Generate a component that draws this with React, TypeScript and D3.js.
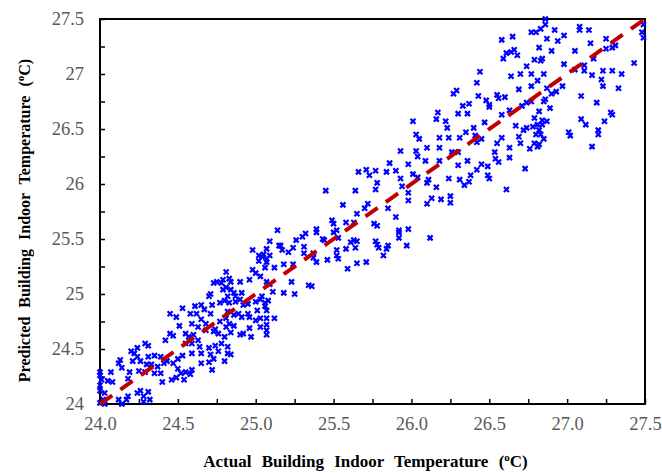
import React, { useEffect, useRef } from 'react';
import * as d3 from 'd3';

// [actual, predicted] in ºC
const lowBand: [number, number][] = [
	[24.29, 24.55], [24.31, 24.53], [24.24, 24.51], [24.22, 24.46], [24.20, 24.48], [24.24, 24.43], [24.21, 24.39],
	[24.13, 24.40], [24.12, 24.37], [24.14, 24.33], [24.07, 24.29], [24.05, 24.21], [24.00, 24.29], [24.00, 24.26],
	[24.01, 24.22], [24.00, 24.17], [24.00, 24.12], [24.03, 24.10], [24.02, 24.04], [24.00, 24.01], [24.03, 24.00],
	[24.14, 24.00], [24.12, 24.04], [24.17, 24.04], [24.18, 24.07], [24.26, 24.12], [24.28, 24.07], [24.31, 24.11],
	[24.32, 24.04], [24.28, 24.02], [24.24, 24.10], [24.40, 24.20], [24.46, 24.22], [24.49, 24.24], [24.54, 24.22],
	[24.52, 24.28], [24.55, 24.29], [24.58, 24.27], [24.59, 24.31], [24.50, 24.32], [24.47, 24.37], [24.50, 24.41],
	[24.53, 24.44], [24.43, 24.39], [24.41, 24.37], [24.37, 24.34], [24.35, 24.28], [24.39, 24.28], [24.33, 24.36],
	[24.30, 24.36], [24.26, 24.39], [24.31, 24.43], [24.35, 24.44], [24.39, 24.43], [24.29, 24.29], [24.25, 24.30],
	[24.19, 24.29], [24.18, 24.23], [24.08, 24.20], [24.55, 24.55], [24.59, 24.55], [24.63, 24.58], [24.64, 24.52],
	[24.65, 24.46], [24.59, 24.46], [24.70, 24.51], [24.74, 24.53], [24.78, 24.55], [24.82, 24.52], [24.82, 24.46],
	[24.84, 24.45], [24.80, 24.39], [24.71, 24.45], [24.65, 24.37], [24.70, 24.38], [24.73, 24.41], [24.76, 24.48],
	[24.72, 24.31], [24.42, 24.58],
];

const clusterBand: [number, number][] = [
	[25.09, 25.48], [25.15, 25.44], [24.98, 25.40], [25.07, 25.41], [25.02, 25.35], [25.04, 25.34], [25.05, 25.36],
	[25.07, 25.32], [25.09, 25.35], [25.02, 25.30], [25.07, 25.29], [25.12, 25.24], [25.06, 25.24], [24.98, 25.22],
	[25.00, 25.19], [24.81, 25.20], [24.79, 25.13], [24.75, 25.11], [24.73, 25.10], [24.78, 25.10], [24.83, 25.14],
	[24.84, 25.11], [24.90, 25.11], [24.96, 25.13], [25.03, 25.16], [25.07, 25.11], [25.09, 25.09], [25.23, 25.11],
	[25.34, 25.08], [25.18, 25.01], [25.25, 25.00], [25.11, 25.02], [24.81, 25.06], [24.79, 25.04], [24.84, 25.04],
	[24.86, 25.01], [24.82, 24.98], [24.87, 24.98], [24.91, 25.01], [24.71, 25.00], [24.70, 24.98], [24.77, 24.92],
	[24.80, 24.94], [24.83, 24.92], [24.87, 24.93], [24.90, 24.95], [24.92, 24.90], [24.95, 24.91], [25.00, 24.93],
	[25.03, 24.95], [25.04, 24.98], [25.06, 24.92], [25.08, 24.94], [25.06, 24.89], [25.07, 24.85], [25.01, 24.85],
	[24.95, 24.82], [24.96, 24.79], [25.00, 24.76], [25.03, 24.78], [25.07, 24.78], [25.12, 24.78], [25.07, 24.72],
	[25.07, 24.67], [25.07, 24.63], [25.03, 24.70], [24.96, 24.69], [24.97, 24.61], [24.89, 24.82], [24.91, 24.79],
	[24.86, 24.81], [24.82, 24.84], [24.81, 24.78], [24.83, 24.73], [24.86, 24.71], [24.81, 24.70], [24.84, 24.65],
	[24.80, 24.61], [24.77, 24.75], [24.74, 24.68], [24.76, 24.64], [24.73, 24.66], [24.68, 24.67], [24.68, 24.73],
	[24.65, 24.77], [24.63, 24.70], [24.59, 24.73], [24.58, 24.82], [24.53, 24.87], [24.61, 24.89], [24.62, 24.82],
	[24.71, 24.82], [24.72, 24.90], [24.65, 24.90], [24.67, 24.86], [24.49, 24.79], [24.51, 24.71], [24.45, 24.82],
	[24.45, 24.64], [24.47, 24.62], [24.55, 24.64], [24.57, 24.61], [24.60, 24.63], [24.92, 24.64], [24.90, 24.63],
];

const midBand: [number, number][] = [
	[25.86, 26.19], [25.71, 26.13], [25.66, 26.11], [25.73, 26.08], [25.77, 26.12], [25.84, 26.11], [25.90, 26.12],
	[25.78, 26.01], [25.77, 25.95], [25.64, 25.94], [25.45, 25.94], [25.85, 25.78], [25.56, 25.81], [25.72, 25.82],
	[25.70, 25.78], [25.65, 25.73], [25.49, 25.67], [25.50, 25.64], [25.58, 25.65], [25.63, 25.65], [25.76, 25.64],
	[25.78, 25.62], [25.90, 25.70], [25.92, 25.58], [25.98, 25.59], [25.92, 25.56], [25.92, 25.51], [25.97, 25.44],
	[26.12, 25.51], [25.77, 25.48], [25.78, 25.45], [25.79, 25.42], [25.84, 25.41], [25.85, 25.44], [25.82, 25.35],
	[25.65, 25.48], [25.63, 25.49], [25.61, 25.47], [25.64, 25.42], [25.58, 25.41], [25.52, 25.40], [25.52, 25.35],
	[25.53, 25.32], [25.46, 25.31], [25.50, 25.56], [25.52, 25.58], [25.53, 25.51], [25.44, 25.49], [25.43, 25.50],
	[25.39, 25.59], [25.39, 25.56], [25.37, 25.37], [25.37, 25.33], [25.39, 25.29], [25.32, 25.55], [25.30, 25.52],
	[25.26, 25.49], [25.31, 25.43], [25.31, 25.37], [25.24, 25.42], [25.21, 25.38], [25.17, 25.40], [25.16, 25.44],
	[25.18, 25.27], [25.24, 25.27], [25.65, 25.28], [25.71, 25.29], [25.59, 25.23], [25.14, 25.58], [25.36, 25.07],
];

const upperBand: [number, number][] = [
	[26.44, 27.02], [26.42, 26.92], [26.27, 26.82], [26.29, 26.85], [26.33, 26.71], [26.37, 26.73], [26.43, 26.80],
	[26.48, 26.76], [26.50, 26.72], [26.50, 26.70], [26.55, 26.81], [26.56, 26.78],
	[26.30, 26.64], [26.36, 26.64], [26.17, 26.65], [26.16, 26.59], [26.01, 26.57], [26.22, 26.57], [26.23, 26.51],
	[26.47, 26.56], [26.40, 26.51], [26.35, 26.47], [26.31, 26.42], [26.24, 26.42], [26.18, 26.42], [26.03, 26.45],
	[26.05, 26.41], [25.93, 26.30], [26.03, 26.30], [26.04, 26.25], [26.10, 26.33], [26.18, 26.33], [26.26, 26.29],
	[26.30, 26.29], [26.45, 26.41], [26.42, 26.38], [26.41, 26.44], [26.55, 26.37], [26.535, 26.29], [26.54, 26.23],
	[26.56, 26.20], [26.73, 26.14], [26.18, 26.21], [26.09, 26.21], [25.98, 26.18], [26.01, 26.09], [26.04, 26.06],
	[26.11, 26.04], [26.10, 26.01], [26.16, 25.97], [26.24, 26.05], [26.31, 26.04], [26.37, 26.02], [26.38, 26.08],
	[26.34, 25.99], [26.42, 26.13], [26.45, 26.18], [26.49, 26.16], [26.49, 26.08], [26.50, 26.05], [26.36, 26.21],
	[26.30, 26.17], [26.61, 25.95], [25.98, 25.92], [25.98, 25.85], [26.13, 25.87], [26.10, 25.82], [26.19, 25.86],
	[26.25, 25.89], [26.25, 25.83], [25.93, 26.05], [25.94, 25.98],
];

const topBand: [number, number][] = [
	[26.86, 27.50], [26.86, 27.45], [26.83, 27.41], [26.80, 27.38], [26.77, 27.38], [26.65, 27.34], [26.58, 27.31],
	[26.92, 27.40], [26.98, 27.35], [26.94, 27.30], [26.87, 27.32], [27.08, 27.43], [27.08, 27.40], [27.14, 27.40],
	[27.25, 27.32], [27.15, 27.28], [27.31, 27.26], [27.29, 27.24], [27.25, 27.23], [27.05, 27.21], [26.90, 27.21],
	[26.82, 27.24], [26.68, 27.17], [26.66, 27.22], [26.64, 27.20], [26.61, 27.19], [26.59, 27.14], [26.84, 27.14],
	[26.83, 27.12], [26.79, 27.13], [27.43, 27.10], [27.17, 27.14], [27.11, 27.08], [27.05, 27.04], [27.11, 27.03],
	[26.98, 27.09], [26.74, 27.07], [26.70, 27.00], [26.77, 27.00], [26.85, 27.00], [27.23, 27.03], [27.29, 27.03],
	[27.35, 27.00], [27.16, 26.99], [27.22, 26.95], [27.23, 26.89], [27.33, 26.87], [26.64, 26.98], [26.81, 26.94],
	[26.77, 26.89], [26.69, 26.86], [26.87, 26.87], [26.97, 26.89], [26.93, 26.84], [26.90, 26.82], [26.86, 26.77],
	[26.85, 26.75], [26.77, 26.75], [26.74, 26.74], [26.71, 26.71], [26.60, 26.79], [27.09, 26.80], [27.19, 26.74],
	[26.89, 26.69], [26.82, 26.66], [26.58, 26.63], [26.63, 26.67], [27.28, 26.65], [27.29, 26.63], [27.09, 26.59],
	[27.12, 26.54], [27.24, 26.57], [26.79, 26.60], [26.84, 26.58], [26.87, 26.57], [26.81, 26.54], [26.84, 26.54],
	[26.78, 26.52], [26.67, 26.53], [26.74, 26.51], [26.72, 26.49], [26.82, 26.49], [26.80, 26.45], [26.83, 26.45],
	[26.85, 26.41], [26.69, 26.43], [26.70, 26.37], [27.01, 26.47], [27.02, 26.44], [27.20, 26.49], [27.20, 26.45],
	[26.63, 26.33], [26.76, 26.32], [26.79, 26.37], [26.81, 26.34], [26.82, 26.36], [27.16, 26.34], [27.49, 27.45],
	[27.48, 27.38], [27.49, 27.33], [26.58, 26.42], [26.63, 26.24],
];

const fitLine = [24, 27.5];
const xTickValues = [24, 24.25, 24.5, 24.75, 25, 25.25, 25.5, 25.75, 26, 26.25, 26.5, 26.75, 27, 27.25, 27.5];
const yTickValues = [24, 24.25, 24.5, 24.75, 25, 25.25, 25.5, 25.75, 26, 26.25, 26.5, 26.75, 27, 27.25, 27.5];

const W = 662, H = 473;
const margin = { left: 100, right: 17, top: 19, bottom: 69 };
const serif = '"Liberation Serif", "Times New Roman", serif';

export default function App() {
	const ref = useRef<SVGSVGElement>(null);

	useEffect(() => {
		const svg = d3.select(ref.current);
		svg.selectAll('*').remove();

		const points = [...lowBand, ...clusterBand, ...midBand, ...upperBand, ...topBand];

		const x = d3.scaleLinear().domain([24, 27.5]).range([margin.left, W - margin.right]);
		const y = d3.scaleLinear().domain([24, 27.5]).range([H - margin.bottom, margin.top]);

		// axes, ticks point inward
		const isMajor = (d: number) => Math.abs(d * 2 - Math.round(d * 2)) < 1e-6;
		const gx = svg.append('g')
			.attr('transform', `translate(0,${H - margin.bottom})`)
			.call(d3.axisBottom(x).tickValues(xTickValues).tickSize(-5).tickSizeOuter(0).tickPadding(13)
				.tickFormat(d => isMajor(+d) ? d3.format('.1f')(+d) : ''));
		const gy = svg.append('g')
			.attr('transform', `translate(${margin.left},0)`)
			.call(d3.axisLeft(y).tickValues(yTickValues).tickSize(-5).tickSizeOuter(0).tickPadding(16)
				.tickFormat(d => isMajor(+d) ? String(+d) : ''));
		[gx, gy].forEach(g => {
			g.select('.domain').remove();
			g.selectAll('line').attr('stroke', '#000').attr('stroke-width', 1.5);
			g.selectAll('text').attr('fill', '#595959').style('font-family', serif).style('font-size', '18.5px');
		});

		// frame
		svg.append('rect')
			.attr('x', x(24)).attr('y', y(27.5))
			.attr('width', x(27.5) - x(24)).attr('height', y(24) - y(27.5))
			.attr('fill', 'none').attr('stroke', '#000').attr('stroke-width', 2);

		// points
		const marker = d3.symbol(d3.symbolX, 18);
		svg.append('g').selectAll('path')
			.data(points)
			.join('path')
			.attr('d', marker)
			.attr('transform', d => `translate(${x(d[0])},${y(d[1])})`)
			.attr('fill', 'none')
			.attr('stroke', '#0000FF')
			.attr('stroke-width', 2.2);

		// 1:1 line
		const line = d3.line<number>().x(d => x(d)).y(d => y(d));
		svg.append('path')
			.attr('d', line(fitLine))
			.attr('fill', 'none')
			.attr('stroke', '#C00000')
			.attr('stroke-width', 4)
			.attr('stroke-dasharray', '15,10');

		// titles
		const xt = svg.append('text')
			.attr('x', (x(24) + x(27.5)) / 2 - 7).attr('y', 467)
			.attr('text-anchor', 'middle')
			.style('font-family', serif).style('font-size', '17px').style('font-weight', 'bold')
			.style('word-spacing', '6px');
		xt.append('tspan').text('Actual Building Indoor Temperature (');
		xt.append('tspan').attr('baseline-shift', 'super').style('font-size', '11px').text('o');
		xt.append('tspan').text('C)');

		const yt = svg.append('text')
			.attr('transform', `translate(30,${(y(24) + y(27.5)) / 2 + 9}) rotate(-90)`)
			.attr('text-anchor', 'middle')
			.style('font-family', serif).style('font-size', '16px').style('font-weight', 'bold')
			.style('word-spacing', '5px');
		yt.append('tspan').text('Predicted Building Indoor Temperature (');
		yt.append('tspan').attr('baseline-shift', 'super').style('font-size', '11px').text('o');
		yt.append('tspan').text('C)');
	}, []);

	return (
		<div style={{ position: 'absolute', left: 0, top: 0 }}>
			<svg ref={ref} width={W} height={H} style={{ display: 'block', background: '#fff' }} />
		</div>
	);
}
